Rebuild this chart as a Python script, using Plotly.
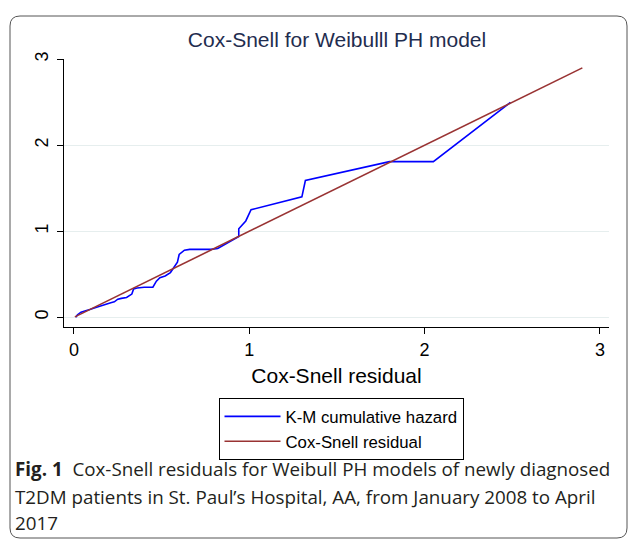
import plotly.graph_objects as go

# K-M cumulative hazard of Cox-Snell residuals
km_x = [0.01, 0.02, 0.04, 0.06, 0.09, 0.12, 0.16, 0.19, 0.21, 0.23, 0.25, 0.27,
        0.30, 0.33, 0.34, 0.36, 0.40, 0.45, 0.47, 0.49, 0.52, 0.55, 0.57, 0.58,
        0.59, 0.60, 0.63, 0.66, 0.78, 0.82, 0.88, 0.94, 0.94, 0.98, 1.01, 1.30,
        1.32, 1.80, 2.05, 2.49]
km_y = [0.00, 0.03, 0.06, 0.07, 0.09, 0.11, 0.14, 0.16, 0.17, 0.18, 0.21, 0.22,
        0.23, 0.27, 0.33, 0.34, 0.35, 0.35, 0.42, 0.46, 0.48, 0.52, 0.58, 0.61,
        0.64, 0.73, 0.78, 0.79, 0.79, 0.80, 0.87, 0.94, 1.03, 1.12, 1.25, 1.40,
        1.59, 1.81, 1.81, 2.50]

# Reference line (Cox-Snell residual vs itself)
cs_x = [0.005, 2.90]
cs_y = [0.005, 2.90]

tick_vals = [0, 1, 2, 3]
tick_text = ["0", "1", "2", "3"]

title_text = "Cox-Snell for Weibulll PH model"
xaxis_title = "Cox-Snell residual"
legend_names = ["K-M cumulative hazard", "Cox-Snell residual"]
caption_lines = [
    "<b>Fig. 1</b>  Cox-Snell residuals for Weibull PH models of newly diagnosed",
    "T2DM patients in St. Paul’s Hospital, AA, from January 2008 to April",
    "2017",
]

W, H = 629, 540
L, R, T, B = 64, 20, 59, 213
PW, PH = W - L - R, H - T - B


def px(xp):
    return (xp - L) / PW


def py(yp):
    return (H - B - yp) / PH


fig = go.Figure()
fig.add_trace(go.Scatter(x=km_x, y=km_y, mode="lines", name=legend_names[0],
                         line=dict(color="#0000ff", width=1.6)))
fig.add_trace(go.Scatter(x=cs_x, y=cs_y, mode="lines", name=legend_names[1],
                         line=dict(color="#993333", width=1.6)))

FONT = "Liberation Sans, Arial, sans-serif"
axis_font = dict(family=FONT, size=18, color="black")

fig.update_layout(
    width=W, height=H,
    margin=dict(l=L, r=R, t=T, b=B, pad=0, autoexpand=False),
    paper_bgcolor="white", plot_bgcolor="white",
    title=dict(text=title_text, x=px(337), xanchor="center",
               y=1 - 40 / H, yanchor="middle", yref="container", xref="paper",
               font=dict(family=FONT, size=21, color="#1f2d4f")),
    xaxis=dict(range=[-0.057, 3.052], tickvals=tick_vals, ticktext=tick_text,
               ticks="outside", ticklen=6, tickcolor="black", tickwidth=1,
               showline=True, linecolor="black", linewidth=1,
               showgrid=False, zeroline=False, tickfont=axis_font,
               automargin=False,
               title=dict(text=xaxis_title, standoff=9,
                          font=dict(family=FONT, size=21, color="black"))),
    yaxis=dict(range=[-0.113, 3.003], tickvals=tick_vals, ticktext=tick_text,
               ticks="outside", ticklen=6, tickcolor="black", tickwidth=1,
               showline=True, linecolor="black", linewidth=1,
               showgrid=True, gridcolor="#e6eeee", gridwidth=1, zeroline=False,
               automargin=False, ticklabelstandoff=2,
               tickangle=-90, tickfont=axis_font),
    showlegend=True,
    legend=dict(x=px(341), xanchor="center", y=py(398), yanchor="top",
                bordercolor="black", borderwidth=1, bgcolor="white",
                font=dict(family=FONT, size=16.8, color="black"),
                itemwidth=56, tracegroupgap=0),
)

# Outer rounded frame (caption box)
r = 10
x0, y0, x1, y1 = 10, 16, 627, 538
path = (f"M {px(x0)},{py(y0 + r)} Q {px(x0)},{py(y0)} {px(x0 + r)},{py(y0)} "
        f"L {px(x1 - r)},{py(y0)} Q {px(x1)},{py(y0)} {px(x1)},{py(y0 + r)} "
        f"L {px(x1)},{py(y1 - r)} Q {px(x1)},{py(y1)} {px(x1 - r)},{py(y1)} "
        f"L {px(x0 + r)},{py(y1)} Q {px(x0)},{py(y1)} {px(x0)},{py(y1 - r)} Z")
fig.add_shape(type="path", xref="paper", yref="paper", path=path,
              line=dict(color="#555555", width=1), layer="below")

for i, (txt, yc) in enumerate(zip(caption_lines, [469, 497, 523])):
    fig.add_annotation(text=txt, xref="paper", yref="paper", x=px(13), y=py(yc),
                       xanchor="left", yanchor="middle", showarrow=False,
                       font=dict(family="Open Sans, sans-serif", size=18.8, color="#231f20"))

fig.write_html("out.html", config={"displayModeBar": False},
               post_script="document.body.style.margin='0px';")
